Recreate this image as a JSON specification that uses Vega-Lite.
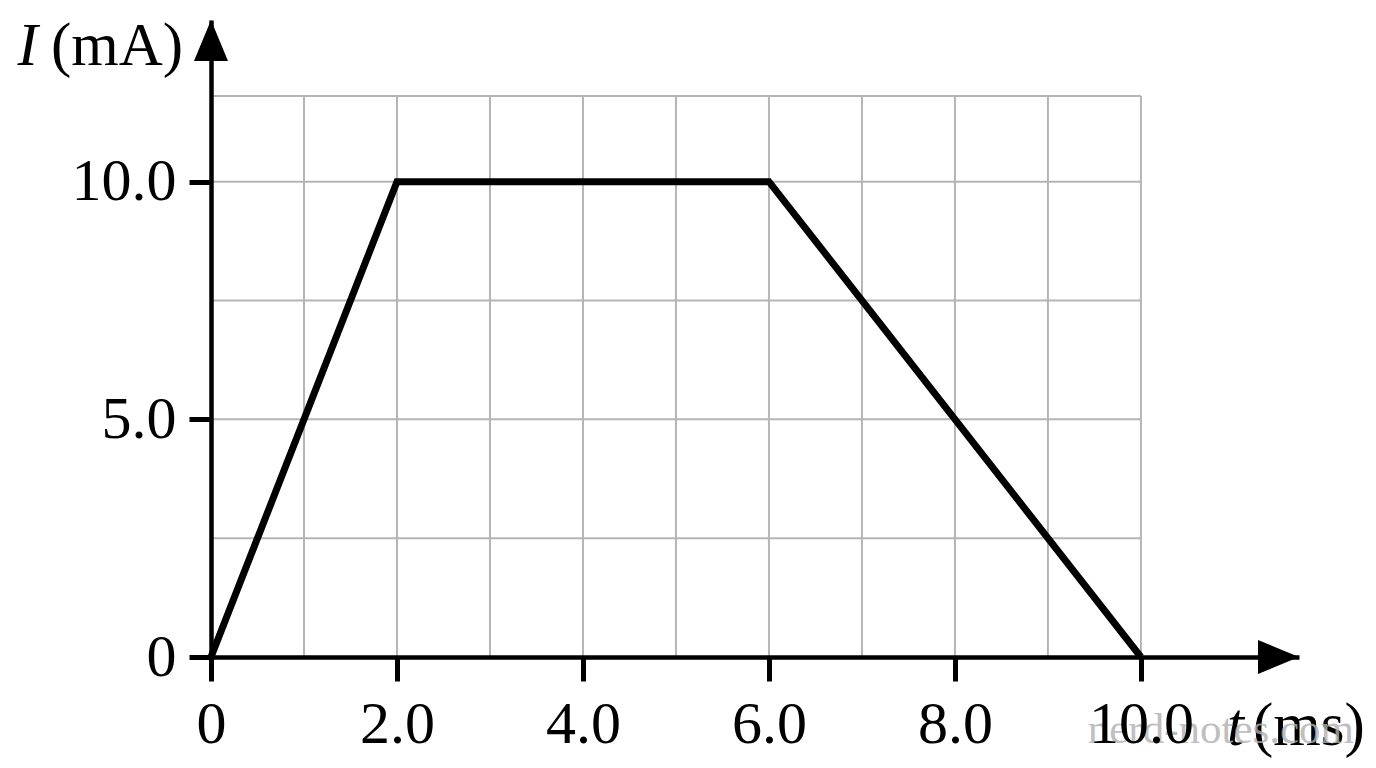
{
  "$schema": "https://vega.github.io/schema/vega-lite/v6.json",
  "width": 1088,
  "height": 637,
  "autosize": {"type": "none"},
  "padding": {"left": 211, "top": 20, "right": 77, "bottom": 111},
  "background": "white",
  "config": {"view": {"stroke": null}},
  "datasets": {
    "current": [
      {"t": 0, "I": 0},
      {"t": 2, "I": 10},
      {"t": 6, "I": 10},
      {"t": 10, "I": 0}
    ],
    "vgrid": [
      {"t": 1}, {"t": 2}, {"t": 3}, {"t": 4}, {"t": 5},
      {"t": 6}, {"t": 7}, {"t": 8}, {"t": 9}, {"t": 10}
    ],
    "hgrid": [
      {"I": 2.5}, {"I": 5}, {"I": 7.5}, {"I": 10}, {"I": 11.8}
    ],
    "italicLabels": [
      {"text": "I", "t": -2.08, "I": 12.46},
      {"text": "t", "t": 10.925, "I": -1.853}
    ],
    "unitLabels": [
      {"text": "(mA)", "t": -1.72, "I": 12.46},
      {"text": "(ms)", "t": 11.204, "I": -1.853}
    ]
  },
  "layer": [
    {
      "data": {"name": "hgrid"},
      "mark": {"type": "rule", "color": "#b5b5b5", "strokeWidth": 2},
      "encoding": {
        "y": {"field": "I", "type": "quantitative"},
        "x": {"datum": 0, "type": "quantitative"},
        "x2": {"datum": 10}
      }
    },
    {
      "data": {"name": "vgrid"},
      "mark": {"type": "rule", "color": "#b5b5b5", "strokeWidth": 2},
      "encoding": {
        "x": {"field": "t", "type": "quantitative"},
        "y": {"datum": 0, "type": "quantitative"},
        "y2": {"datum": 11.8}
      }
    },
    {
      "data": {"name": "current"},
      "mark": {"type": "line", "color": "black", "strokeWidth": 7, "strokeJoin": "miter", "strokeCap": "butt"},
      "encoding": {
        "x": {
          "field": "t",
          "type": "quantitative",
          "scale": {"domain": [0, 11.7], "nice": false},
          "axis": {
            "title": "",
            "values": [0, 2, 4, 6, 8, 10],
            "labelExpr": "datum.value == 0 ? '0' : format(datum.value, '.1f')",
            "grid": false,
            "domainColor": "black",
            "domainWidth": 4.5,
            "tickColor": "black",
            "tickWidth": 5,
            "tickSize": 24,
            "labelFont": "Liberation Serif",
            "labelFontSize": 60,
            "labelColor": "black",
            "labelPadding": 14,
            "labelFlush": false,
            "labelOverlap": false,
            "zindex": 1
          }
        },
        "y": {
          "field": "I",
          "type": "quantitative",
          "scale": {"domain": [0, 13.4], "nice": false},
          "axis": {
            "title": "",
            "values": [0, 5, 10],
            "labelExpr": "datum.value == 0 ? '0' : format(datum.value, '.1f')",
            "grid": false,
            "domainColor": "black",
            "domainWidth": 4.5,
            "tickColor": "black",
            "tickWidth": 5,
            "tickSize": 22,
            "labelFont": "Liberation Serif",
            "labelFontSize": 60,
            "labelColor": "black",
            "labelPadding": 13,
            "labelFlush": false,
            "labelOverlap": false,
            "zindex": 1
          }
        }
      }
    },
    {
      "data": {"values": [{"t": 11.7, "I": 0}]},
      "mark": {"type": "point", "shape": "M0,0L-2,-0.83L-2,0.83Z", "size": 1681, "filled": true, "color": "black", "opacity": 1, "strokeWidth": 0},
      "encoding": {
        "x": {"field": "t", "type": "quantitative"},
        "y": {"field": "I", "type": "quantitative"}
      }
    },
    {
      "data": {"values": [{"t": 0, "I": 13.4}]},
      "mark": {"type": "point", "shape": "M0,0L-0.83,2L0.83,2Z", "size": 1681, "filled": true, "color": "black", "opacity": 1, "strokeWidth": 0},
      "encoding": {
        "x": {"field": "t", "type": "quantitative"},
        "y": {"field": "I", "type": "quantitative"}
      }
    },
    {
      "data": {"name": "italicLabels"},
      "mark": {"type": "text", "font": "Liberation Serif", "fontStyle": "italic", "fontSize": 61, "align": "left", "baseline": "alphabetic", "color": "black"},
      "encoding": {
        "x": {"field": "t", "type": "quantitative"},
        "y": {"field": "I", "type": "quantitative"},
        "text": {"field": "text"}
      }
    },
    {
      "data": {"name": "unitLabels"},
      "mark": {"type": "text", "font": "Liberation Serif", "fontSize": 61, "align": "left", "baseline": "alphabetic", "color": "black"},
      "encoding": {
        "x": {"field": "t", "type": "quantitative"},
        "y": {"field": "I", "type": "quantitative"},
        "text": {"field": "text"}
      }
    },
    {
      "data": {"values": [{"text": "nerd-notes.com", "t": 10.86, "I": -1.81}]},
      "mark": {"type": "text", "font": "Liberation Serif", "fontSize": 43, "align": "center", "baseline": "alphabetic", "color": "#b0b0b0", "opacity": 0.8},
      "encoding": {
        "x": {"field": "t", "type": "quantitative"},
        "y": {"field": "I", "type": "quantitative"},
        "text": {"field": "text"}
      }
    }
  ]
}
